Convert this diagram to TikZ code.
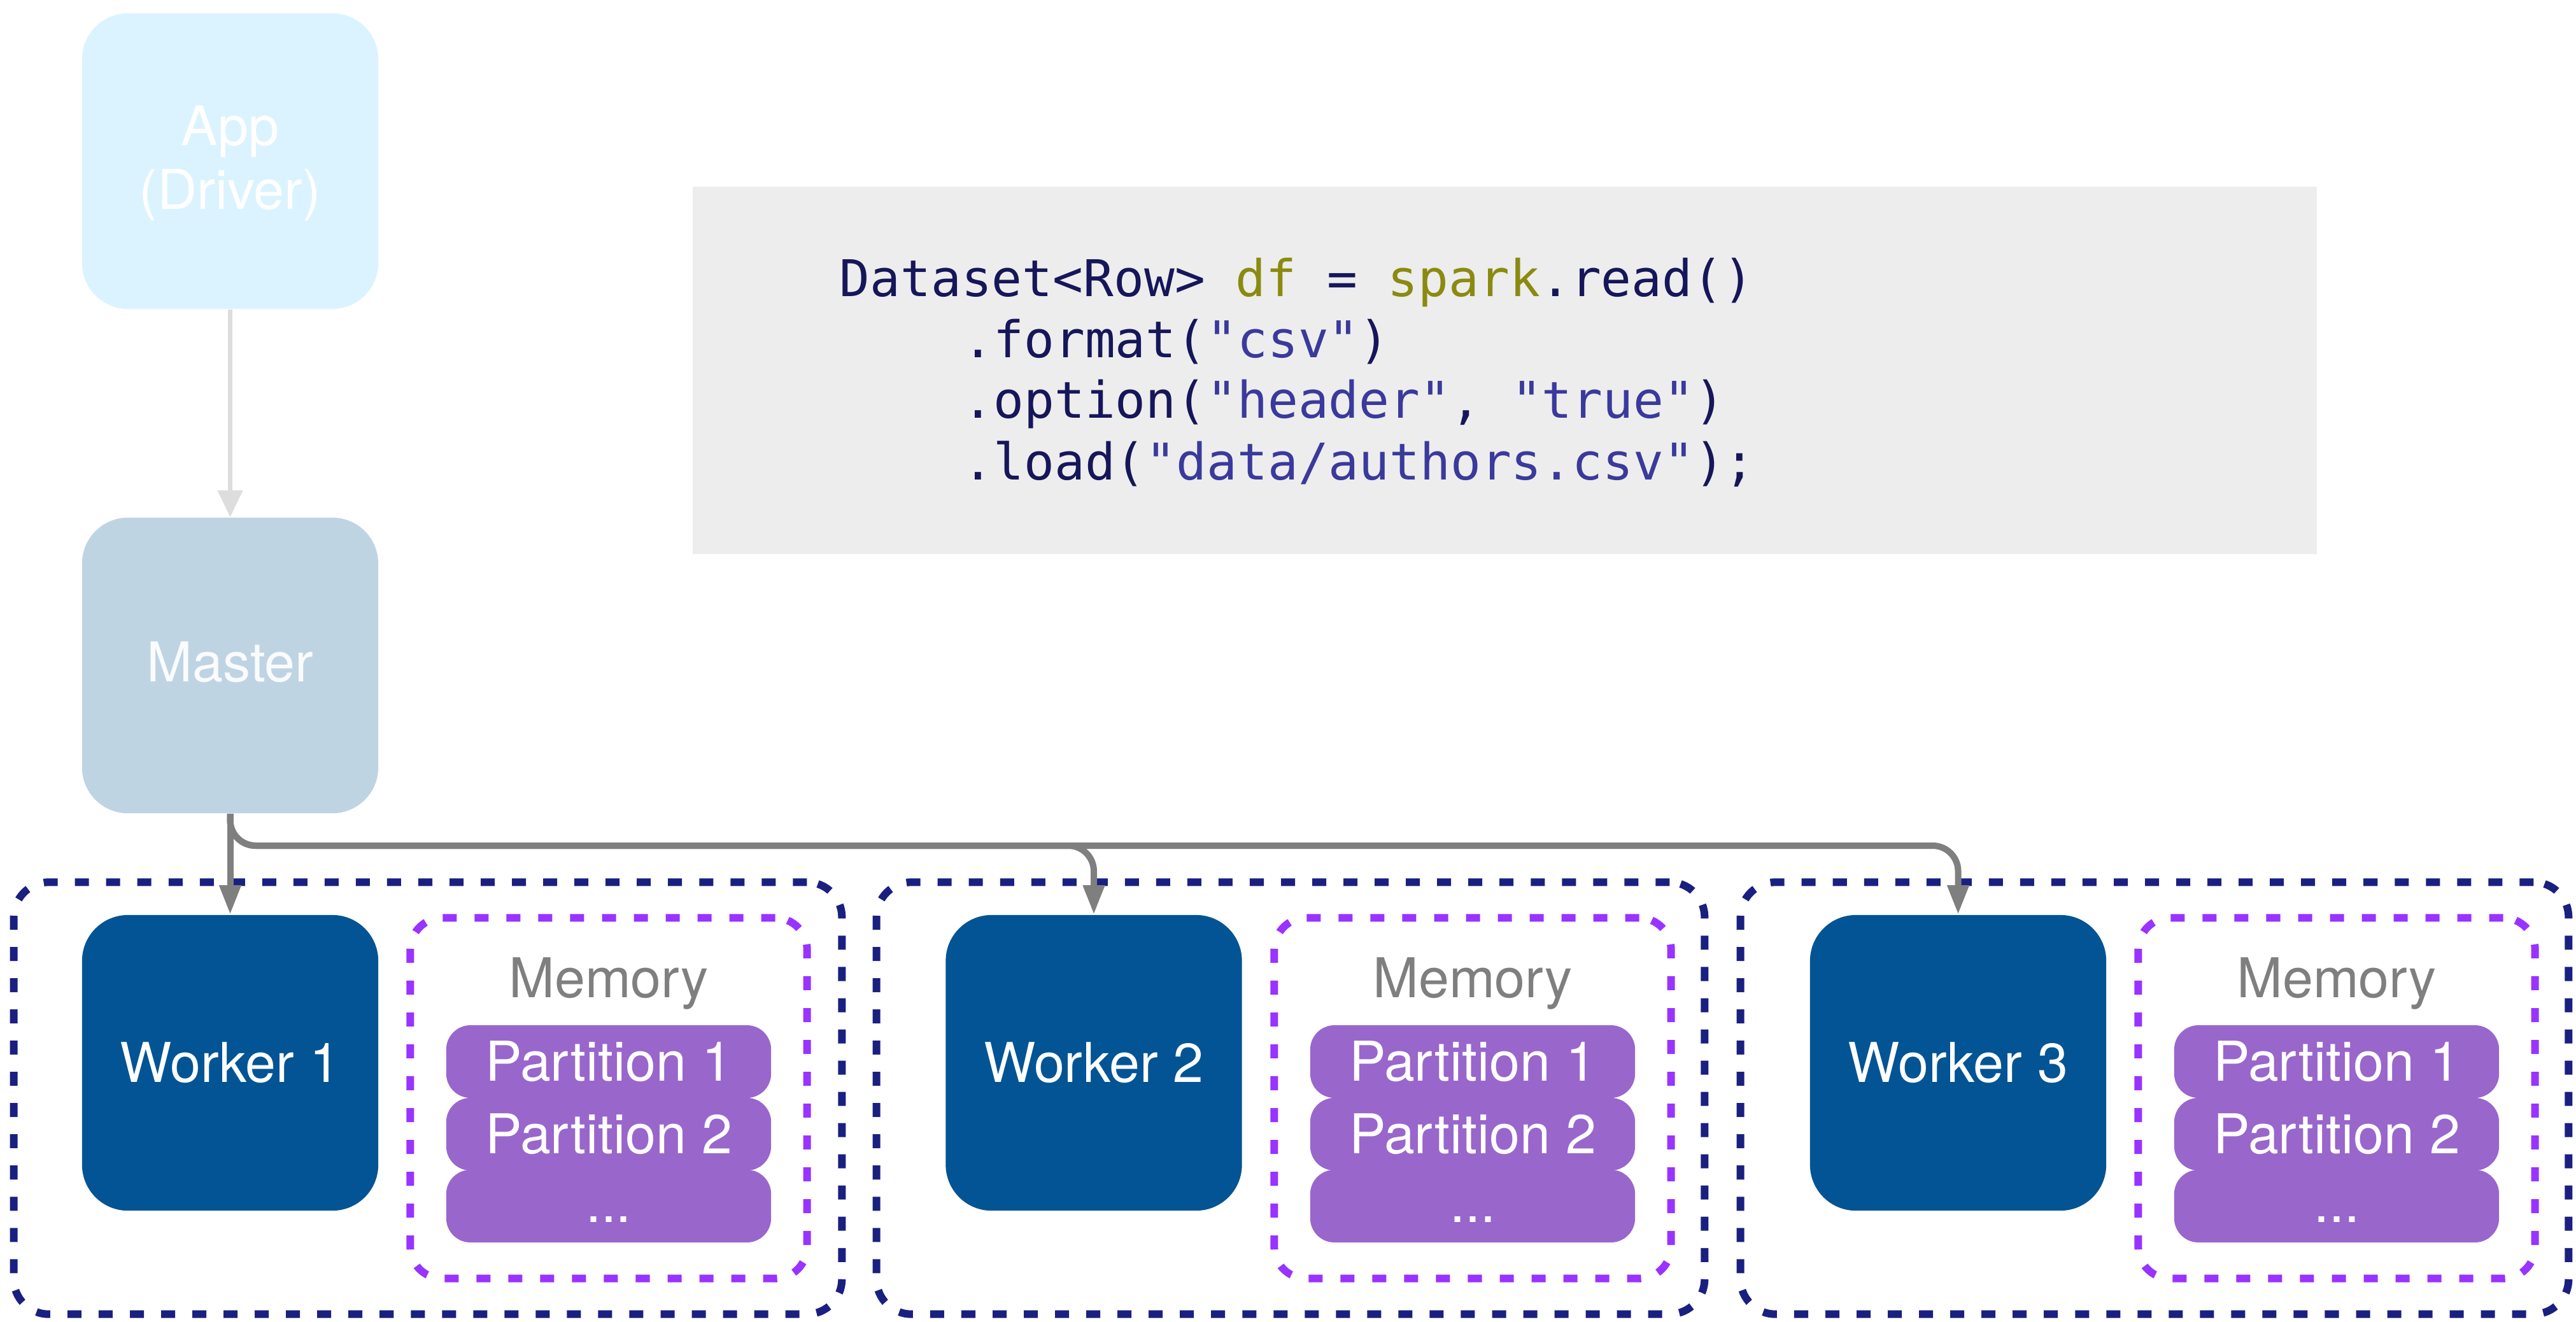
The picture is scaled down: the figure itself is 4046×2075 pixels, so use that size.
\documentclass[tikz,border=0pt]{standalone}
\usepackage{fontspec}
\setmainfont{TeX Gyre Heros}
\setmonofont{DejaVu Sans Mono}
\usetikzlibrary{arrows.meta}
\definecolor{appfill}{HTML}{DBF3FE}
\definecolor{masterfill}{HTML}{BFD4E3}
\definecolor{workerfill}{HTML}{035494}
\definecolor{partfill}{HTML}{9966CC}
\definecolor{outerdot}{HTML}{1A2080}
\definecolor{memdot}{HTML}{9933FF}
\definecolor{memtext}{HTML}{7F7F7F}
\definecolor{connc}{HTML}{7F7F7F}
\definecolor{appconn}{HTML}{DDDDDD}
\definecolor{codebg}{HTML}{EDEDED}
\definecolor{cdef}{HTML}{16165A}
\definecolor{cstr}{HTML}{3A3A9C}
\definecolor{colive}{HTML}{8A8A10}
\tikzset{
  lbl/.style={font=\fontsize{24.5}{30}\selectfont, text=white},
  bigbox/.style={rounded corners=0.72cm, minimum width=4.65cm, minimum height=4.64cm, inner sep=0pt, lbl},
  outerbox/.style={draw=outerdot, line width=0.12cm, dash pattern=on 0.22cm off 0.27cm, rounded corners=0.55cm, minimum width=13.0cm, minimum height=6.78cm, inner sep=0pt},
  membox/.style={draw=memdot, line width=0.12cm, dash pattern=on 0.22cm off 0.28cm, rounded corners=0.5cm, minimum width=6.23cm, minimum height=5.66cm, inner sep=0pt},
  partbox/.style={fill=partfill, rounded corners=0.38cm, minimum width=5.1cm, minimum height=1.14cm, inner sep=0pt, lbl},
  memlbl/.style={font=\fontsize{24.5}{30}\selectfont, text=memtext, anchor=base, inner sep=0pt},
  codeline/.style={font=\ttfamily\fontsize{22.6}{27}\selectfont, text=cdef, anchor=base west, inner sep=0pt},
  conn/.style={draw=connc, line width=0.1cm, -{Triangle[length=0.46cm,width=0.32cm]}, rounded corners=0.4cm},
}
\begin{document}
\begin{tikzpicture}[x=0.01cm,y=-0.01cm]
\useasboundingbox (0,0) rectangle (4046,2075);
\fill[white] (0,0) rectangle (4046,2075);

% code box
\node[fill=codebg, minimum width=25.49cm, minimum height=5.77cm, inner sep=0pt] (code) at (2363.5,581.5) {};
\node[codeline] (c1) at (1318,465) {Dataset<Row> \textcolor{colive}{df} = \textcolor{colive}{spark}.read()};
\node[codeline] (c2) at (1512,561) {.format(\textcolor{cstr}{"csv"})};
\node[codeline] (c3) at (1512,656) {.option(\textcolor{cstr}{"header"}, \textcolor{cstr}{"true"})};
\node[codeline] (c4) at (1512,753) {.load(\textcolor{cstr}{"data/authors.csv"});};

% app and master
\node[bigbox, fill=appfill] (app) at (361.5,253) {};
\node[lbl, anchor=base, inner sep=0pt] (appt1) at (361.5,228) {App};
\node[lbl, anchor=base, inner sep=0pt] (appt2) at (361.5,328) {(Driver)};
\node[bigbox, fill=masterfill] (master) at (361.5,1045) {};
\node[lbl, text=white!90!masterfill, anchor=base, inner sep=0pt] (mastert) at (361.5,1070) {Master};

% outer boxes
\node[outerbox] (o1) at (672,1724.5) {};
\node[outerbox] (o2) at (2027,1724.5) {};
\node[outerbox] (o3) at (3384,1724.5) {};

% workers
\node[bigbox, fill=workerfill] (w1) at (361.5,1669) {Worker 1};
\node[bigbox, fill=workerfill] (w2) at (1718,1669) {Worker 2};
\node[bigbox, fill=workerfill] (w3) at (3075.5,1669) {Worker 3};

% memory
\foreach \i/\x in {1/956,2/2313,3/3670}{
  \node[membox] (m\i) at (\x,1724.5) {};
  \node[memlbl] (ml\i) at (\x,1566) {Memory};
  \node[partbox] (p\i a) at (\x,1667) {Partition 1};
  \node[partbox] (p\i b) at (\x,1781) {Partition 2};
  \node[partbox] (p\i c) at (\x,1894) {};
  \node[lbl, anchor=base, inner sep=0pt] (p\i d) at (\x,1919) {...};
}

% connectors
\coordinate (hj) at (0,1328);
\draw[-{Triangle[length=0.42cm,width=0.38cm]}, draw=appconn, fill=appconn, line width=0.07cm] (app.south) -- (master.north);
\draw[conn] (master.south) -- (w1.north);
\draw[conn] (master.south) |- (w2.north |- hj) -- (w2.north);
\draw[conn] (master.south) |- (w3.north |- hj) -- (w3.north);
\end{tikzpicture}
\end{document}
